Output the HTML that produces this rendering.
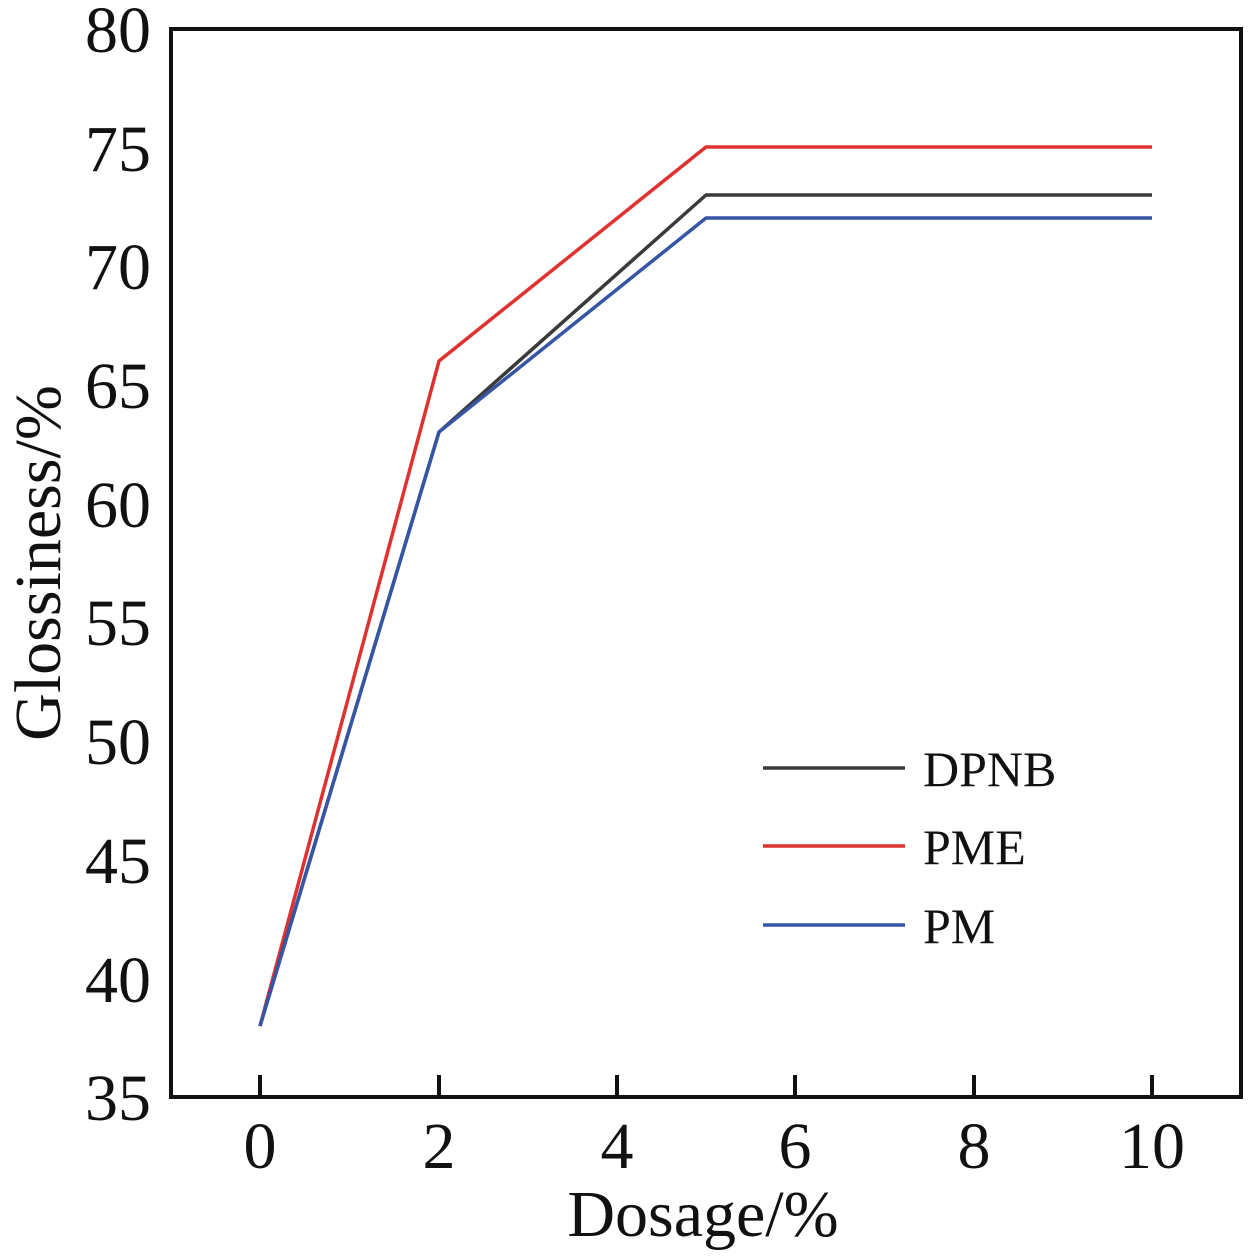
<!DOCTYPE html>
<html><head><style>body{margin:0;background:#fff}</style></head><body>
<svg width="1257" height="1252" xmlns="http://www.w3.org/2000/svg" font-family="Liberation Serif, serif" fill="#111">
<rect x="171" y="29" width="1070" height="1068" fill="none" stroke="#111" stroke-width="4"/>
<g stroke="#111" stroke-width="4">
<line x1="260" y1="1097" x2="260" y2="1075"/><line x1="439" y1="1097" x2="439" y2="1075"/>
<line x1="617" y1="1097" x2="617" y2="1075"/><line x1="795" y1="1097" x2="795" y2="1075"/>
<line x1="974" y1="1097" x2="974" y2="1075"/><line x1="1152" y1="1097" x2="1152" y2="1075"/>
</g>
<g font-size="66" text-anchor="middle">
<text x="260" y="1168">0</text><text x="439" y="1168">2</text><text x="617" y="1168">4</text>
<text x="795" y="1168">6</text><text x="974" y="1168">8</text><text x="1152" y="1168">10</text>
</g>
<g font-size="66" text-anchor="end">
<text x="151" y="52">80</text><text x="151" y="171">75</text><text x="151" y="289">70</text>
<text x="151" y="408">65</text><text x="151" y="527">60</text><text x="151" y="645">55</text>
<text x="151" y="764">50</text><text x="151" y="883">45</text><text x="151" y="1002">40</text>
<text x="151" y="1120">35</text>
</g>
<text x="703" y="1236" font-size="66" text-anchor="middle">Dosage/%</text>
<text transform="translate(60,563) rotate(-90)" font-size="66" text-anchor="middle">Glossiness/%</text>
<g fill="none" stroke-width="3.5" stroke-linejoin="round">
<polyline stroke="#e03131" points="260,1026 439,361 706,147 1152,147"/>
<polyline stroke="#3a3a3a" points="260,1026 439,432 706,195 1152,195"/>
<polyline stroke="#3556a5" points="260,1026 439,432 706,218 1152,218"/>
<line x1="763" y1="768" x2="905" y2="768" stroke="#3a3a3a"/>
<line x1="763" y1="846" x2="905" y2="846" stroke="#e03131"/>
<line x1="763" y1="925" x2="905" y2="925" stroke="#3556a5"/>
</g>
<g font-size="50">
<text x="923" y="786">DPNB</text><text x="923" y="864">PME</text><text x="923" y="943">PM</text>
</g>
</svg>
</body></html>
